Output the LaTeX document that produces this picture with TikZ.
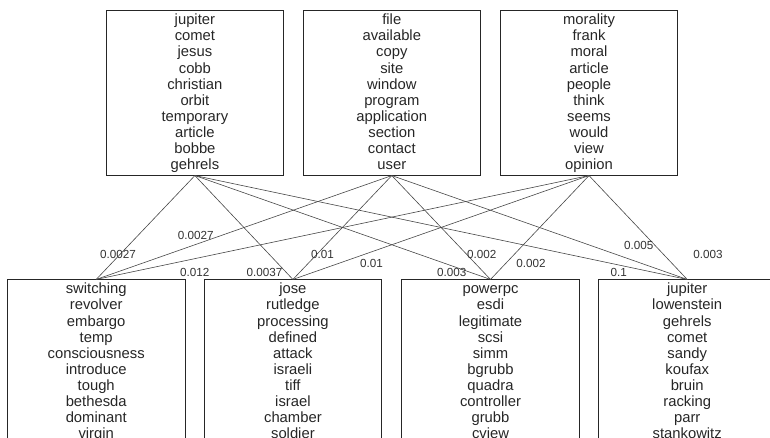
\documentclass[tikz,border=0pt]{standalone}
\usepackage{fontspec}
\setmainfont{Liberation Sans}
\newcommand\firststrut{\rule{0pt}{14pt}}
\newcommand\laststrut{\rule[-5.6pt]{0pt}{5.6pt}}
\begin{document}
\begin{tikzpicture}[x=1pt,y=-1pt,
  topicbox/.style={draw=black!85, line width=0.8pt, minimum width=177.5pt, minimum height=161.4pt,
    inner sep=0pt, align=center, text=black!85, font=\fontsize{14.8}{16.08}\selectfont},
  edgeline/.style={draw=black!72, line width=0.6pt},
  lbl/.style={inner sep=0pt, text=black!80, font=\fontsize{11.7}{13}\selectfont}]
\useasboundingbox (0,0) rectangle (770,438);
\clip (0,0) rectangle (770,438);
% top boxes
\node[topicbox] (t1) at (194.9,93) {\firststrut jupiter\\comet\\jesus\\cobb\\christian\\orbit\\temporary\\article\\bobbe\\gehrels\laststrut};
\node[topicbox] (t2) at (391.8,93) {\firststrut file\\available\\copy\\site\\window\\program\\application\\section\\contact\\user\laststrut};
\node[topicbox] (t3) at (589,93) {\firststrut morality\\frank\\moral\\article\\people\\think\\seems\\would\\view\\opinion\laststrut};
% bottom boxes
\node[topicbox] (b1) at (96.2,362) {\firststrut switching\\revolver\\embargo\\temp\\consciousness\\introduce\\tough\\bethesda\\dominant\\virgin\laststrut};
\node[topicbox] (b2) at (292.9,362) {\firststrut jose\\rutledge\\processing\\defined\\attack\\israeli\\tiff\\israel\\chamber\\soldier\laststrut};
\node[topicbox] (b3) at (490.5,362) {\firststrut powerpc\\esdi\\legitimate\\scsi\\simm\\bgrubb\\quadra\\controller\\grubb\\cview\laststrut};
\node[topicbox] (b4) at (687.2,362) {\firststrut jupiter\\lowenstein\\gehrels\\comet\\sandy\\koufax\\bruin\\racking\\parr\\stankowitz\laststrut};
% edges
\foreach \t in {t1,t2,t3}{
  \foreach \b in {b1,b2,b3,b4}{
    \draw[edgeline] (\t.south) -- (\b.north);
  }
}
% edge labels
\node[lbl] (l1) at (118,254) {0.0027};
\node[lbl] (l2) at (195.7,235.7) {0.0027};
\node[lbl] (l3) at (194.8,272.3) {0.012};
\node[lbl] (l4) at (264.5,272.3) {0.0037};
\node[lbl] (l5) at (322.5,254.3) {0.01};
\node[lbl] (l6) at (371.5,263.3) {0.01};
\node[lbl] (l7) at (451.8,272.3) {0.003};
\node[lbl] (l8) at (481.7,254.3) {0.002};
\node[lbl] (l9) at (531,263.3) {0.002};
\node[lbl] (l10) at (618.7,272.3) {0.1};
\node[lbl] (l11) at (638.8,245.7) {0.005};
\node[lbl] (l12) at (708,254.3) {0.003};
\end{tikzpicture}
\end{document}
